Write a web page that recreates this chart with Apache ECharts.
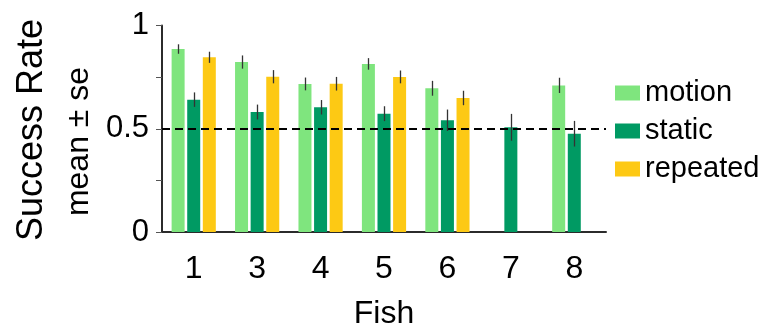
<!DOCTYPE html>
<html>
<head>
<meta charset="utf-8">
<script src="https://cdn.jsdelivr.net/npm/echarts@6/dist/echarts.min.js"></script>
<style>html,body{margin:0;padding:0;background:#fff;}#c{width:776px;height:328px;}</style>
</head>
<body>
<div id="c"></div>
<script>
const categories = ['1', '3', '4', '5', '6', '7', '8'];
const seriesNames = ['motion', 'static', 'repeated'];
const motion = [0.886, 0.823, 0.717, 0.814, 0.696, null, 0.710];
const motionSE = [0.023, 0.032, 0.031, 0.028, 0.036, null, 0.037];
const staticVals = [0.641, 0.581, 0.604, 0.573, 0.541, 0.507, 0.476];
const staticSE = [0.035, 0.036, 0.035, 0.036, 0.052, 0.065, 0.062];
const repeated = [0.846, 0.752, 0.718, 0.751, 0.649, null, null];
const repeatedSE = [0.027, 0.032, 0.033, 0.031, 0.035, null, null];
const yTickLabels = { '0': '0', '0.5': '0.5', '1': '1' };
const chanceLevel = 0.5;

const colors = ['#7fe57e', '#009a63', '#fdc914'];
const FONT = 'Liberation Sans, Arial, sans-serif';
const BAR_W = 13;
const GAP_RATIO = 0.2;

const means = [motion, staticVals, repeated];
const ses = [motionSE, staticSE, repeatedSE];

function errData(k) {
  const out = [];
  means[k].forEach((m, i) => {
    if (m !== null && ses[k][i] !== null) out.push([i, m, ses[k][i]]);
  });
  return out;
}

function makeErr(k) {
  return {
    type: 'custom',
    name: seriesNames[k] + ' se',
    data: errData(k),
    z: 5,
    silent: true,
    renderItem: function (params, api) {
      const i = api.value(0), m = api.value(1), s = api.value(2);
      const off = (k - 1) * BAR_W * (1 + GAP_RATIO);
      const p1 = api.coord([i, m - s]);
      const p2 = api.coord([i, m + s]);
      const x = Math.round(p1[0] + off) + 0.5;
      return {
        type: 'line',
        shape: { x1: x, y1: p1[1], x2: x, y2: p2[1] },
        style: { stroke: '#333', lineWidth: 1.3 }
      };
    }
  };
}

const chart = echarts.init(document.getElementById('c'), null, { renderer: 'canvas' });
chart.setOption({
  animation: false,
  backgroundColor: '#fff',
  textStyle: { fontFamily: FONT },
  grid: { left: 162, right: 170, top: 25.5, bottom: 96, containLabel: false, outerBoundsMode: 'none' },
  legend: {
    data: seriesNames,
    orient: 'vertical',
    left: 610,
    top: 73.5,
    itemWidth: 25,
    itemHeight: 15,
    itemGap: 9,
    icon: 'rect',
    selectedMode: false,
    textStyle: { fontFamily: FONT, fontSize: 29, color: '#000', lineHeight: 29 }
  },
  xAxis: {
    type: 'category',
    data: categories,
    name: 'Fish',
    nameLocation: 'middle',
    nameGap: 66,
    nameTextStyle: { fontFamily: FONT, fontSize: 32, color: '#000' },
    axisLine: { lineStyle: { color: '#2b2b2b', width: 2 } },
    axisTick: { alignWithLabel: true, length: 4, inside: false, lineStyle: { color: '#555', width: 1 } },
    axisLabel: { fontFamily: FONT, fontSize: 32, color: '#000', margin: 21 },
    splitLine: { show: false }
  },
  yAxis: {
    type: 'value',
    min: 0,
    max: 1,
    interval: 0.25,
    axisLine: { show: true, lineStyle: { color: '#2b2b2b', width: 2 } },
    axisTick: { show: true, length: 6, lineStyle: { color: '#555', width: 1 } },
    axisLabel: {
      fontFamily: FONT, fontSize: 31, color: '#000', margin: 13,
      formatter: function (v) { const k = String(v); return yTickLabels[k] !== undefined ? yTickLabels[k] : ''; }
    },
    splitLine: { show: false }
  },
  graphic: [
    {
      type: 'text', x: 32, y: 130, rotation: Math.PI / 2,
      style: { text: 'Success Rate', fontFamily: FONT, fontSize: 36, fill: '#000', align: 'center', verticalAlign: 'middle' }
    },
    {
      type: 'text', x: 79, y: 141.5, rotation: Math.PI / 2,
      style: { text: 'mean ± se', fontFamily: FONT, fontSize: 32, fill: '#000', align: 'center', verticalAlign: 'middle' }
    }
  ],
  series: [
    { type: 'bar', name: 'motion', data: motion, barWidth: BAR_W, barGap: '20%', itemStyle: { color: colors[0] } },
    { type: 'bar', name: 'static', data: staticVals, barWidth: BAR_W, barGap: '20%', itemStyle: { color: colors[1] } },
    { type: 'bar', name: 'repeated', data: repeated, barWidth: BAR_W, barGap: '20%', itemStyle: { color: colors[2] } },
    makeErr(0), makeErr(1), makeErr(2),
    {
      type: 'line', name: 'chance', data: [], z: 10,
      markLine: {
        silent: true, symbol: ['none', 'none'], label: { show: false },
        lineStyle: { color: '#000', type: [8, 5], width: 2 },
        data: [{ yAxis: chanceLevel }]
      }
    }
  ]
});
</script>
</body>
</html>
